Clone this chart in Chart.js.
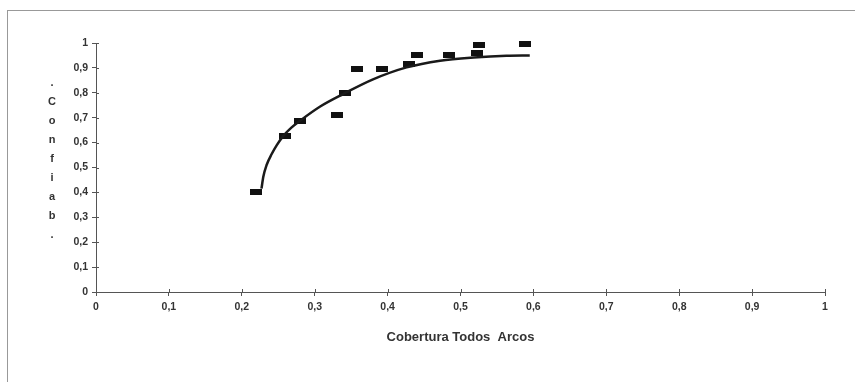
<!DOCTYPE html>
<html>
<head>
<meta charset="utf-8">
<script src="https://cdn.jsdelivr.net/npm/chart.js@4"></script>
<style>
    body { margin: 0; background: #fff; }
    #wrap { position: relative; width: 855px; height: 382px; }
    #frame {
        position: absolute; left: 7px; top: 10px; width: 860px; height: 380px;
        border-left: 1px solid #999; border-top: 1px solid #999;
    }
    #canvas { position: absolute; left: 0; top: 0; }
</style>
</head>
<body>
<div id="wrap">
    <div id="frame"></div>
    <canvas id="canvas" width="855" height="382"></canvas>
</div>
<script>
// observed points (x = cobertura, y = confiab.)
const pointX = [0.219, 0.259, 0.280, 0.330, 0.341, 0.358, 0.392, 0.429, 0.441, 0.484, 0.523, 0.526, 0.589];
const pointY = [0.403, 0.627, 0.688, 0.711, 0.798, 0.897, 0.897, 0.917, 0.950, 0.953, 0.959, 0.992, 0.997];

// trend curve
const curveX = [0.227, 0.2295, 0.234, 0.241, 0.248, 0.257, 0.268, 0.280, 0.307, 0.339, 0.380, 0.426, 0.472, 0.518, 0.563, 0.595];
const curveY = [0.415, 0.463, 0.510, 0.554, 0.590, 0.627, 0.660, 0.688, 0.744, 0.795, 0.854, 0.902, 0.929, 0.942, 0.949, 0.950];

const yTitle = '.Confiab.';
const xTitle = 'Cobertura Todos  Arcos';

// little black dash used as marker
const marker = document.createElement('canvas');
marker.width = 12;
marker.height = 6;
let mctx = marker.getContext('2d');
mctx.fillStyle = '#111';
mctx.fillRect(0, 0, 12, 6);

function fmt(v) {
    return Number(v.toFixed(1)).toString().replace('.', ',');
}

const axisExtras = {
    id: 'axisExtras',
    afterDraw(chart) {
        let c = chart.ctx;
        let area = chart.chartArea;
        c.save();
        // tick marks also poke into the plot, like the original
        c.strokeStyle = '#555';
        c.lineWidth = 1;
        c.beginPath();
        chart.scales.x.ticks.forEach(t => {
            let px = Math.round(chart.scales.x.getPixelForValue(t.value)) + 0.5;
            c.moveTo(px, area.bottom);
            c.lineTo(px, area.bottom - 3);
        });
        chart.scales.y.ticks.forEach(t => {
            let py = Math.round(chart.scales.y.getPixelForValue(t.value)) + 0.5;
            c.moveTo(area.left, py);
            c.lineTo(area.left + 3, py);
        });
        c.stroke();
        // stacked y title
        c.fillStyle = '#333';
        c.font = 'bold 11px "Liberation Sans", Arial, sans-serif';
        c.textAlign = 'center';
        c.textBaseline = 'middle';
        for (let i = 0; i < yTitle.length; i++) {
            c.fillText(yTitle[i], 52, 83 + i * 19);
        }
        c.restore();
    }
};

const tickFont = { family: '"Liberation Sans", Arial, sans-serif', size: 10.5, weight: 'bold' };

const ctx = document.getElementById('canvas').getContext('2d');
const chart = new Chart(ctx, {
    type: 'scatter',
    data: {
        datasets: [{
            label: 'curve',
            type: 'line',
            data: curveX.map((x, i) => ({ x: x, y: curveY[i] })),
            borderColor: '#1a1a1a',
            borderWidth: 2.5,
            pointRadius: 0,
            cubicInterpolationMode: 'monotone',
            fill: false
        }, {
            label: 'points',
            data: pointX.map((x, i) => ({ x: x, y: pointY[i] })),
            pointStyle: marker,
            pointRadius: 6,
            clip: false
        }]
    },
    options: {
        responsive: false,
        animation: false,
        layout: { padding: { left: 0, right: 30, top: 43, bottom: 0 } },
        plugins: { legend: { display: false }, tooltip: { enabled: false } },
        scales: {
            x: {
                type: 'linear',
                min: 0,
                max: 1,
                afterFit: function (scale) { scale.height = 90; },
                ticks: {
                    stepSize: 0.1,
                    color: '#333',
                    font: tickFont,
                    padding: 5,
                    maxRotation: 0,
                    callback: fmt
                },
                grid: { drawOnChartArea: false, tickLength: 4, color: '#555' },
                border: { color: '#555', width: 1 },
                title: {
                    display: true,
                    text: xTitle,
                    color: '#333',
                    font: { family: '"Liberation Sans", Arial, sans-serif', size: 13, weight: 'bold' },
                    padding: { top: 0, bottom: 37 }
                }
            },
            y: {
                min: 0,
                max: 1,
                afterFit: function (scale) { scale.width = 96; },
                ticks: {
                    stepSize: 0.1,
                    color: '#333',
                    font: tickFont,
                    padding: 4,
                    callback: fmt
                },
                grid: { drawOnChartArea: false, tickLength: 4, color: '#555' },
                border: { color: '#555', width: 1 }
            }
        }
    },
    plugins: [axisExtras]
});
</script>
</body>
</html>
